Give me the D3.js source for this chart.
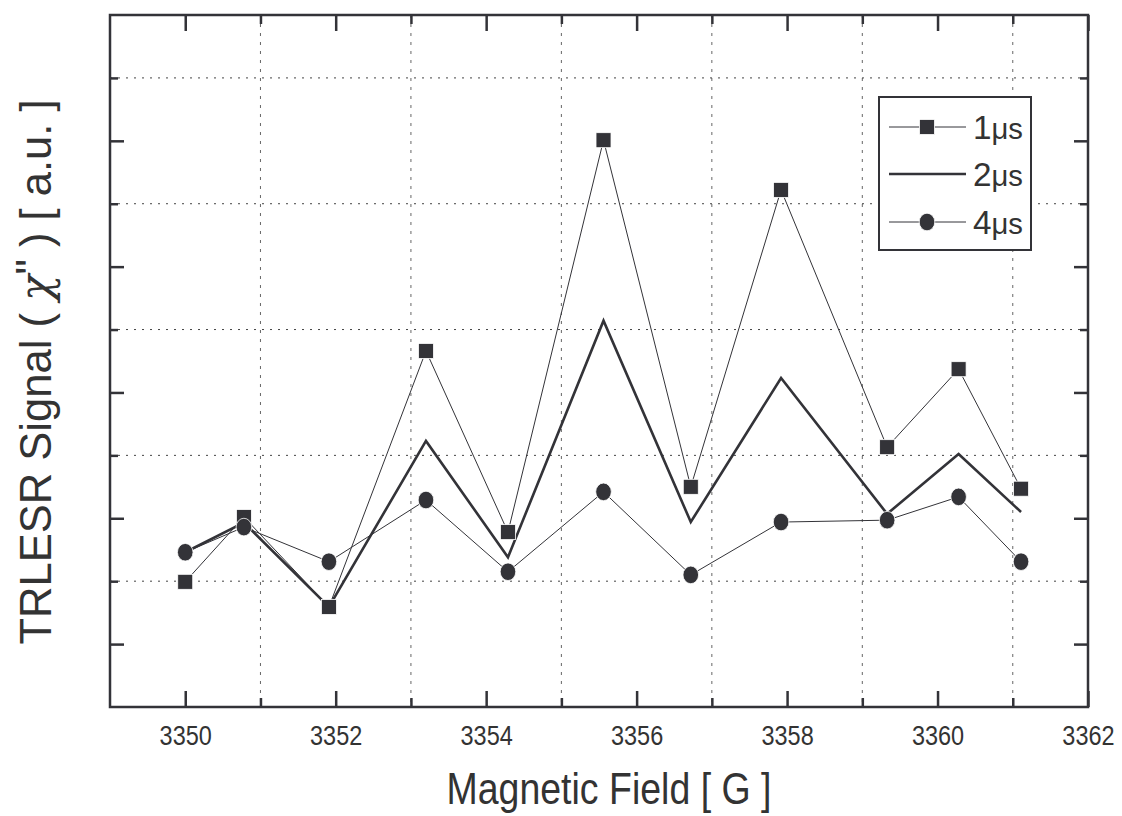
<!DOCTYPE html>
<html>
<head>
<meta charset="utf-8">
<script src="https://cdn.jsdelivr.net/npm/d3@7"></script>
<style>
  html, body { margin: 0; padding: 0; background: #fff; }
  svg { display: block; }
  text { font-family: "Liberation Sans", Arial, sans-serif; fill: #333; }
</style>
</head>
<body>
<svg id="chart" width="1122" height="816"></svg>
<script>
// ---- data ----
const fieldValues = [3350.0, 3350.78, 3351.91, 3353.2, 3354.29, 3355.56, 3356.72, 3357.92, 3359.33, 3360.28, 3361.11];
const signal1us = [1.99, 3.02, 1.59, 5.66, 2.78, 9.01, 3.50, 8.22, 4.13, 5.37, 3.47];
const signal2us = [2.46, 2.93, 1.59, 4.23, 2.38, 6.14, 2.94, 5.23, 3.07, 4.02, 3.10];
const signal4us = [2.46, 2.86, 2.31, 3.29, 2.15, 3.42, 2.10, 2.94, 2.97, 3.34, 2.31];
const xMajorTicks = [3350, 3352, 3354, 3356, 3358, 3360, 3362];
const xMinorTicks = [3351, 3353, 3355, 3357, 3359, 3361];
const yMajorTicks = [1, 3, 5, 7, 9];
const yMinorTicks = [2, 4, 6, 8, 10];
const seriesNames = ["1\u03bcs", "2\u03bcs", "4\u03bcs"];
const xTitle = "Magnetic Field [ G ]";

const ink = "#333338";
const svg = d3.select("#chart");
const L = 110, R = 1088, T = 15, B = 707;
const x = d3.scaleLinear().domain([3349, 3362]).range([L, R]);
const y = d3.scaleLinear().domain([0, 11]).range([B, T]);

// ---- grid ----
const grid = svg.append("g");
grid.selectAll("line.v").data(xMinorTicks).join("line")
  .attr("x1", d => x(d)).attr("x2", d => x(d)).attr("y1", T).attr("y2", B)
  .attr("stroke", "#666").attr("stroke-width", 1).attr("stroke-dasharray", "3,6");
grid.selectAll("line.h").data(yMinorTicks).join("line")
  .attr("x1", L).attr("x2", R).attr("y1", d => y(d)).attr("y2", d => y(d))
  .attr("stroke", "#444").attr("stroke-width", 1).attr("stroke-dasharray", "2,6");

// ---- axes ----
function styleAxis(g) {
  g.select(".domain").remove();
  g.selectAll(".tick line").attr("stroke", ink).attr("stroke-width", 2.5);
}
svg.append("g").attr("transform", `translate(0,${B})`)
  .call(d3.axisBottom(x).tickValues(xMajorTicks).tickSize(-16).tickPadding(18).tickFormat(d3.format("d")))
  .call(styleAxis)
  .call(g => g.selectAll("text").attr("font-size", 28).attr("fill", "#333")
    .attr("font-family", "Liberation Sans, Arial, sans-serif")
    .attr("transform", "scale(0.84,1)"));
svg.append("g").attr("transform", `translate(0,${B})`)
  .call(d3.axisBottom(x).tickValues(xMinorTicks).tickSize(-9).tickFormat(""))
  .call(styleAxis);
svg.append("g").attr("transform", `translate(0,${T})`)
  .call(d3.axisTop(x).tickValues(xMajorTicks).tickSize(-16).tickFormat(""))
  .call(styleAxis);
svg.append("g").attr("transform", `translate(0,${T})`)
  .call(d3.axisTop(x).tickValues(xMinorTicks).tickSize(-9).tickFormat(""))
  .call(styleAxis);
svg.append("g").attr("transform", `translate(${L},0)`)
  .call(d3.axisLeft(y).tickValues(yMajorTicks).tickSize(-14).tickFormat(""))
  .call(styleAxis);
svg.append("g").attr("transform", `translate(${L},0)`)
  .call(d3.axisLeft(y).tickValues(yMinorTicks).tickSize(-8).tickFormat(""))
  .call(styleAxis);
svg.append("g").attr("transform", `translate(${R},0)`)
  .call(d3.axisRight(y).tickValues(yMajorTicks).tickSize(-14).tickFormat(""))
  .call(styleAxis);
svg.append("g").attr("transform", `translate(${R},0)`)
  .call(d3.axisRight(y).tickValues(yMinorTicks).tickSize(-8).tickFormat(""))
  .call(styleAxis);

// frame
svg.append("rect").attr("x", L).attr("y", T).attr("width", R - L).attr("height", B - T)
  .attr("fill", "none").attr("stroke", ink).attr("stroke-width", 2.5);

// ---- series ----
const line = d3.line().x(d => x(d[0])).y(d => y(d[1]));
const pts = arr => fieldValues.map((f, i) => [f, arr[i]]);

svg.append("path").datum(pts(signal1us)).attr("d", line)
  .attr("fill", "none").attr("stroke", ink).attr("stroke-width", 1);
svg.append("path").datum(pts(signal4us)).attr("d", line)
  .attr("fill", "none").attr("stroke", ink).attr("stroke-width", 1);
svg.append("path").datum(pts(signal2us)).attr("d", line)
  .attr("fill", "none").attr("stroke", ink).attr("stroke-width", 2.6).attr("stroke-linejoin", "miter");

const sq = 15;
svg.append("g").selectAll("rect").data(pts(signal1us)).join("rect")
  .attr("x", d => x(d[0]) - sq / 2).attr("y", d => y(d[1]) - sq / 2)
  .attr("width", sq).attr("height", sq).attr("fill", ink)
  .attr("stroke", "#fff").attr("stroke-width", 0.8);
svg.append("g").selectAll("ellipse").data(pts(signal4us)).join("ellipse")
  .attr("cx", d => x(d[0])).attr("cy", d => y(d[1]))
  .attr("rx", 7.8).attr("ry", 8.8).attr("fill", ink)
  .attr("stroke", "#fff").attr("stroke-width", 0.8);

// ---- legend ----
const lg = svg.append("g");
lg.append("rect").attr("x", 879).attr("y", 97).attr("width", 152).attr("height", 153)
  .attr("fill", "#fff").attr("stroke", ink).attr("stroke-width", 2);
const legY = [127, 174, 222];
const lx1 = 889, lx2 = 966, lmx = 927;
seriesNames.forEach((name, i) => {
  const yy = legY[i];
  lg.append("line").attr("x1", lx1).attr("x2", lx2).attr("y1", yy).attr("y2", yy)
    .attr("stroke", ink).attr("stroke-width", i === 1 ? 2.6 : 1);
  if (i === 0) {
    lg.append("rect").attr("x", lmx - sq / 2).attr("y", yy - sq / 2).attr("width", sq).attr("height", sq)
      .attr("fill", ink).attr("stroke", "#fff").attr("stroke-width", 0.8);
  } else if (i === 2) {
    lg.append("ellipse").attr("cx", lmx).attr("cy", yy).attr("rx", 7.8).attr("ry", 8.8)
      .attr("fill", ink).attr("stroke", "#fff").attr("stroke-width", 0.8);
  }
  const t = lg.append("text").attr("x", 973).attr("y", yy + 12).attr("font-size", 33)
    .attr("textLength", 50).attr("lengthAdjust", "spacingAndGlyphs");
  t.append("tspan").text(name.charAt(0));
  t.append("tspan").attr("font-size", 29).text(name.slice(1));
});

// ---- titles ----
svg.append("text").attr("x", 609).attr("y", 804).attr("text-anchor", "middle")
  .attr("font-size", 44).attr("textLength", 325).attr("lengthAdjust", "spacingAndGlyphs")
  .text(xTitle);

const yt = svg.append("text").attr("transform", "translate(51,372) rotate(-90)")
  .attr("text-anchor", "middle").attr("font-size", 44)
  .attr("textLength", 545).attr("lengthAdjust", "spacingAndGlyphs");
yt.append("tspan").text("TRLESR Signal ( ");
yt.append("tspan").attr("font-family", "DejaVu Serif, serif").attr("font-style", "italic").text("\u03c7");
yt.append("tspan").attr("dy", -4).text("\"");
yt.append("tspan").attr("dy", 4).text(" ) [ a.u. ]");
</script>
</body>
</html>
